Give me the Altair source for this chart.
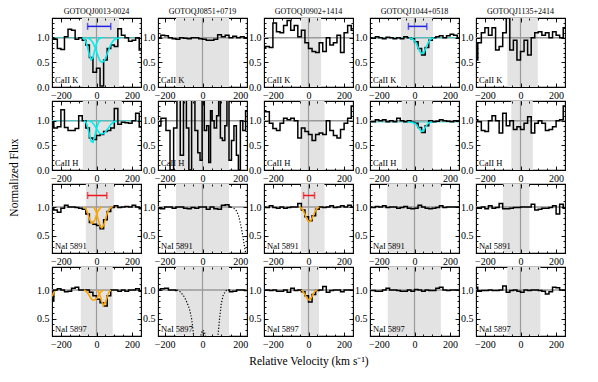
import altair as alt
import pandas as pd

# ---------------- data ----------------
QSOS = ["GOTOQJ0013-0024", "GOTOQJ0851+0719", "GOTOQJ0902+1414",
        "GOTOQJ1044+0518", "GOTOQJ1135+2414"]
LINES = ["CaII K", "CaII H", "NaI 5891", "NaI 5897"]

VEL = [-250, -230, -210, -190, -170, -150, -130, -110, -90, -70, -50, -30, -10,
       10, 30, 50, 70, 90, 110, 130, 150, 170, 190, 210, 230, 250]

# GOTOQJ0013-0024
F_0013_K = [1.0, 0.97, 0.78, 0.76, 1.02, 1.17, 1.15, 0.97, 1.0, 0.95, 0.85, 0.6, 0.3,
            0.38, 0.02, 0.55, 0.78, 0.85, 0.82, 1.18, 1.05, 1.0, 0.93, 0.95, 1.0, 0.75]
F_0013_H = [0.97, 0.85, 0.88, 1.22, 0.86, 0.8, 0.8, 0.84, 1.1, 1.0, 0.85, 0.65, 0.62,
            0.7, 0.72, 0.78, 0.8, 0.85, 1.25, 0.93, 0.97, 0.96, 0.95, 1.0, 1.15, 0.87]
F_0013_NA1 = [0.98, 0.95, 0.91, 0.98, 1.03, 1.0, 1.0, 0.99, 0.98, 0.96, 0.88, 0.73, 0.7,
              0.68, 0.62, 0.78, 0.92, 0.99, 1.02, 0.99, 1.0, 1.01, 1.0, 1.03, 1.0, 0.97]
F_0013_NA2 = [0.82, 1.0, 1.02, 1.0, 0.97, 0.98, 1.03, 1.05, 1.0, 1.0, 1.0, 0.96, 0.9,
              0.84, 0.78, 0.72, 0.9, 1.0, 1.0, 0.98, 1.0, 0.98, 1.0, 1.0, 1.02, 0.98]

# GOTOQJ0851+0719
F_0851_K = [1.0, 1.0, 1.05, 1.04, 1.0, 0.98, 0.97, 1.0, 0.99, 0.98, 1.0, 1.0, 0.98,
            0.97, 0.95, 0.95, 0.97, 1.06, 1.02, 1.05, 1.0, 1.03, 1.0, 1.02, 1.0, 1.0]
V_0851_H = [-235, -204, -182, -161, -144, -126, -109, -92, -78, -66, -49, -31, -19, -7, 3,
            16, 28, 38, 47, 55, 68, 81, 90, 99, 111, 125, 133, 147, 159, 173, 185, 194,
            206, 220, 235]
F_0851_H = [0.9, 1.05, 0.8, 0.0, 0.85, 1.5, 0.3, 1.5, 0.85, 0.0, 1.5, 0.8, 0.35, 0.2, 1.5,
            0.8, 0.9, 0.15, 1.2, 1.0, 0.85, 1.1, 1.5, 0.65, 0.6, 0.9, 1.5, 0.2, 0.6, 0.9,
            0.3, 0.0, 1.0, 0.8, 1.2]
V_0851_NA1 = [-235, -210, -190, -170, -150, -130, -110, -90, -70, -50, -30, -10, 10, 30,
              50, 70, 90, 110, 130, 150]
F_0851_NA1 = [0.98, 0.97, 1.0, 1.0, 0.98, 1.0, 1.0, 0.98, 0.97, 0.99, 0.98, 1.0, 1.0, 0.96,
              1.0, 0.97, 0.96, 1.03, 1.04, 1.0]
V_0851_NA1_DOT = [150, 165, 180, 190, 200, 210, 220, 228, 235]
F_0851_NA1_DOT = [1.0, 0.98, 0.93, 0.85, 0.72, 0.55, 0.35, 0.2, 0.1]
V_0851_NA2_L = [-235, -210, -190, -170, -150, -135]
F_0851_NA2_L = [1.0, 1.02, 1.03, 1.0, 1.0, 0.99]
V_0851_NA2_R = [135, 150, 170, 190, 210, 235]
F_0851_NA2_R = [1.0, 0.97, 0.98, 1.0, 1.0, 0.99]
V_0851_NA2_DOT = [-135, -125, -115, -100, -87, -74, -65, -57, -50, -45, -35, -20, -10, 0,
                  10, 20, 35, 55, 75, 82, 90, 99, 110, 125, 135]
F_0851_NA2_DOT = [1.0, 0.99, 0.96, 0.9, 0.82, 0.72, 0.62, 0.49, 0.3, 0.15, 0.05, 0.05, 0.2,
                  0.3, 0.28, 0.12, 0.04, 0.04, 0.08, 0.22, 0.5, 0.76, 0.92, 0.99, 1.0]

# GOTOQJ0902+1414
F_0902_K = [0.8, 0.82, 0.8, 1.3, 1.12, 1.1, 1.25, 1.35, 1.15, 1.25, 1.02, 1.15, 0.9,
            0.78, 0.72, 0.7, 0.9, 0.72, 1.0, 0.85, 0.9, 1.05, 0.7, 1.1, 1.25, 1.15]
F_0902_H = [1.2, 1.18, 0.95, 0.84, 0.8, 0.95, 1.05, 1.02, 1.05, 1.0, 0.65, 0.85, 0.78,
            0.72, 0.6, 0.72, 0.75, 0.72, 1.0, 0.8, 0.7, 0.65, 0.82, 0.95, 1.05, 1.3]
F_0902_NA1 = [1.0, 0.99, 1.02, 0.99, 0.98, 1.0, 0.98, 0.99, 1.0, 1.0, 1.06, 0.95, 0.83,
              0.76, 0.85, 0.96, 1.0, 0.99, 1.0, 1.02, 0.99, 1.0, 1.02, 1.0, 1.03, 1.0]
F_0902_NA2 = [1.0, 1.0, 0.99, 1.0, 0.98, 0.98, 1.0, 0.96, 1.03, 0.99, 1.0, 0.97, 0.9,
              0.79, 0.92, 0.99, 1.0, 1.06, 0.96, 0.99, 1.0, 1.0, 0.97, 1.0, 1.0, 1.0]

# GOTOQJ1044+0518
F_1044_K = [1.0, 0.99, 1.02, 1.0, 0.98, 1.01, 1.0, 0.98, 1.0, 0.98, 1.02, 1.0, 0.98,
            0.92, 0.78, 0.65, 0.8, 0.95, 1.0, 1.02, 1.04, 1.0, 1.04, 1.07, 1.05, 1.0]
F_1044_H = [0.98, 0.98, 1.02, 1.0, 1.02, 0.98, 1.0, 0.98, 1.05, 1.0, 0.98, 1.0, 0.97,
            0.95, 0.86, 0.76, 0.9, 1.0, 0.98, 0.99, 1.02, 1.0, 0.99, 0.98, 1.0, 1.0]
F_1044_NA1 = [1.0, 0.99, 1.01, 1.0, 1.02, 0.99, 1.0, 1.0, 0.98, 0.99, 1.01, 0.98, 0.97,
              0.98, 1.03, 1.0, 0.98, 0.97, 0.98, 0.99, 1.02, 0.99, 1.0, 1.0, 1.0, 1.0]
F_1044_NA2 = [0.99, 0.99, 0.98, 0.98, 1.0, 1.03, 1.0, 1.0, 0.99, 0.98, 0.98, 1.0, 0.98,
              1.01, 1.0, 0.98, 1.0, 0.99, 0.99, 1.03, 1.05, 1.0, 0.99, 1.0, 1.0, 1.0]

# GOTOQJ1135+2414
F_1135_K = [0.55, 0.9, 1.1, 1.2, 1.05, 1.2, 0.75, 0.82, 1.1, 1.4, 0.75, 0.95, 0.55,
            0.72, 0.95, 0.65, 1.0, 1.1, 1.12, 1.05, 1.1, 1.0, 1.12, 1.05, 1.0, 1.2]
F_1135_H = [1.02, 0.98, 0.8, 0.78, 1.0, 1.1, 1.0, 0.75, 1.15, 0.9, 1.0, 0.82, 0.88,
            0.82, 0.95, 1.08, 0.75, 0.95, 1.0, 0.95, 0.8, 0.82, 0.88, 1.0, 1.02, 1.3]
F_1135_NA1 = [0.98, 0.98, 1.0, 0.97, 1.02, 0.98, 0.99, 1.06, 0.97, 0.97, 0.98, 0.99, 0.99,
              1.0, 1.0, 1.0, 1.05, 0.95, 0.96, 0.98, 0.98, 0.99, 1.02, 0.88, 1.05, 0.98]
F_1135_NA2 = [1.05, 0.98, 0.99, 0.99, 1.0, 0.99, 0.99, 1.0, 1.07, 0.96, 0.99, 1.0, 0.98,
              0.96, 1.0, 0.99, 1.0, 1.0, 0.99, 0.98, 0.93, 0.97, 1.05, 1.04, 1.0, 1.0]

# fitted components
C_0013_K_A_V = [-80, -70, -60, -50, -40, -30, -20, -10, 0, 10, 20, 30]
C_0013_K_A_F = [1.0, 0.98, 0.92, 0.8, 0.65, 0.55, 0.6, 0.74, 0.88, 0.96, 0.99, 1.0]
C_0013_K_B_V = [-50, -40, -30, -20, -10, 0, 10, 20, 30, 40, 50, 60, 70, 80, 90, 100, 110, 120, 130]
C_0013_K_B_F = [1.0, 0.98, 0.95, 0.9, 0.82, 0.72, 0.61, 0.53, 0.5, 0.52, 0.58, 0.67, 0.77,
                0.86, 0.92, 0.96, 0.98, 0.99, 1.0]
C_0013_H_A_V = [-70, -60, -50, -40, -30, -20, -10, 0, 10, 20]
C_0013_H_A_F = [1.0, 0.97, 0.88, 0.72, 0.58, 0.56, 0.68, 0.84, 0.95, 1.0]
C_0013_H_B_V = [-40, -30, -20, -10, 0, 10, 20, 30, 40, 50, 60, 70, 80, 90, 100, 110]
C_0013_H_B_F = [1.0, 0.98, 0.95, 0.9, 0.84, 0.78, 0.74, 0.73, 0.74, 0.77, 0.82, 0.87, 0.92,
                0.96, 0.98, 1.0]
C_0013_NA1_A_V = [-70, -60, -50, -40, -30, -20, -10, 0, 10, 20, 30]
C_0013_NA1_A_F = [1.0, 0.97, 0.9, 0.8, 0.73, 0.72, 0.77, 0.86, 0.94, 0.98, 1.0]
C_0013_NA1_B_V = [-20, -10, 0, 10, 20, 30, 40, 50, 60, 70, 80, 90]
C_0013_NA1_B_F = [1.0, 0.97, 0.9, 0.78, 0.67, 0.64, 0.68, 0.78, 0.89, 0.96, 0.99, 1.0]
C_0013_NA2_A_V = [-70, -60, -50, -40, -30, -20, -10, 0, 10, 20, 30, 40]
C_0013_NA2_A_F = [1.0, 0.98, 0.95, 0.9, 0.85, 0.825, 0.825, 0.85, 0.9, 0.95, 0.98, 1.0]
C_0013_NA2_B_V = [0, 10, 20, 30, 40, 50, 60, 70, 80]
C_0013_NA2_B_F = [1.0, 0.97, 0.9, 0.8, 0.73, 0.78, 0.88, 0.96, 1.0]
C_0013_NA2_C_V = [-250, -245, -240, -235, -230]
C_0013_NA2_C_F = [0.88, 0.92, 0.96, 0.98, 1.0]
C_0902_NA1_V = [-50, -40, -30, -20, -10, 0, 10, 20, 30, 40, 50, 60]
C_0902_NA1_F = [1.0, 0.98, 0.94, 0.87, 0.8, 0.75, 0.75, 0.8, 0.87, 0.94, 0.98, 1.0]
C_0902_NA2_V = [-40, -30, -20, -10, 0, 10, 20, 30, 40, 50]
C_0902_NA2_F = [1.0, 0.97, 0.92, 0.86, 0.83, 0.84, 0.89, 0.95, 0.99, 1.0]
C_1044_K_V = [-30, -20, -10, 0, 10, 20, 30, 40, 50, 60, 70, 80, 90, 100, 110]
C_1044_K_F = [1.0, 0.99, 0.97, 0.94, 0.88, 0.8, 0.72, 0.68, 0.69, 0.75, 0.84, 0.92, 0.97, 0.99, 1.0]
C_1044_H_V = [-40, -20, -10, 0, 10, 20, 30, 40, 50, 60, 70, 80, 90, 100]
C_1044_H_F = [0.975, 0.97, 0.96, 0.95, 0.92, 0.87, 0.82, 0.78, 0.8, 0.86, 0.92, 0.96, 0.97, 0.975]

# velocity windows (grey bands), rows = lines, cols = quasars
BAND_LO = [[-82, -140, -41, -76, -74],
           [-77, -140, -47, -72, -52],
           [-60, -140, -43, -154, -99],
           [-88, -140, -43, -150, -74]]
BAND_HI = [[127, 140, 71, 104, 97],
           [142, 140, 90, 102, 69],
           [99, 140, 90, 148, 50],
           [91, 140, 59, 148, 112]]

# velocity range bars
BAR_ROW = [0, 0, 2, 2]
BAR_COL = [0, 3, 0, 2]
BAR_LO = [-50, -34, -50, -28]
BAR_HI = [80, 69, 58, 34]
BAR_Y = [1.23, 1.23, 1.2, 1.2]
BAR_COLOR = ["#1f1fe8", "#1f1fe8", "#f0141e", "#f0141e"]

# continuum of the fits
CONT_ROW = [0, 1, 0, 1]
CONT_COL = [0, 0, 3, 3]
CONT_Y = [1.0, 1.0, 1.0, 0.975]

X_MAJOR = [-200, 0, 200]
X_MINOR = [-250, -200, -150, -100, -50, 0, 50, 100, 150, 200, 250]
Y_MAJOR_CA = [0.0, 0.5, 1.0]
Y_MAJOR_NA = [0.5, 1.0]
Y_MINOR_CA = [0.0, 0.1, 0.2, 0.3, 0.4, 0.5, 0.6, 0.7, 0.8, 0.9, 1.0, 1.1, 1.2, 1.3, 1.4]
Y_MINOR_NA = [0.2, 0.3, 0.4, 0.5, 0.6, 0.7, 0.8, 0.9, 1.0, 1.1, 1.2, 1.3, 1.4]

# --------------- assemble per panel ----------------
SPEC = {
    (0, 0): [(VEL, F_0013_K)], (1, 0): [(VEL, F_0013_H)],
    (2, 0): [(VEL, F_0013_NA1)], (3, 0): [(VEL, F_0013_NA2)],
    (0, 1): [(VEL, F_0851_K)], (1, 1): [(V_0851_H, F_0851_H)],
    (2, 1): [(V_0851_NA1, F_0851_NA1)],
    (3, 1): [(V_0851_NA2_L, F_0851_NA2_L), (V_0851_NA2_R, F_0851_NA2_R)],
    (0, 2): [(VEL, F_0902_K)], (1, 2): [(VEL, F_0902_H)],
    (2, 2): [(VEL, F_0902_NA1)], (3, 2): [(VEL, F_0902_NA2)],
    (0, 3): [(VEL, F_1044_K)], (1, 3): [(VEL, F_1044_H)],
    (2, 3): [(VEL, F_1044_NA1)], (3, 3): [(VEL, F_1044_NA2)],
    (0, 4): [(VEL, F_1135_K)], (1, 4): [(VEL, F_1135_H)],
    (2, 4): [(VEL, F_1135_NA1)], (3, 4): [(VEL, F_1135_NA2)],
}
DOTTED = {
    (2, 1): [(V_0851_NA1_DOT, F_0851_NA1_DOT)],
    (3, 1): [(V_0851_NA2_DOT, F_0851_NA2_DOT)],
}
CYAN = "#00eeee"
ORANGE = "#ffa500"
COMPS = {
    (0, 0): ([(C_0013_K_A_V, C_0013_K_A_F), (C_0013_K_B_V, C_0013_K_B_F)], CYAN),
    (1, 0): ([(C_0013_H_A_V, C_0013_H_A_F), (C_0013_H_B_V, C_0013_H_B_F)], CYAN),
    (2, 0): ([(C_0013_NA1_A_V, C_0013_NA1_A_F), (C_0013_NA1_B_V, C_0013_NA1_B_F)], ORANGE),
    (3, 0): ([(C_0013_NA2_A_V, C_0013_NA2_A_F), (C_0013_NA2_B_V, C_0013_NA2_B_F),
              (C_0013_NA2_C_V, C_0013_NA2_C_F)], ORANGE),
    (2, 2): ([(C_0902_NA1_V, C_0902_NA1_F)], ORANGE),
    (3, 2): ([(C_0902_NA2_V, C_0902_NA2_F)], ORANGE),
    (0, 3): ([(C_1044_K_V, C_1044_K_F)], CYAN),
    (1, 3): ([(C_1044_H_V, C_1044_H_F)], CYAN),
}

W, H = 89, 69
FONT = "Liberation Serif"
GRAY = "#9a9a9a"
BAND = "#e3e3e3"


def segs_df(pairs):
    rows = []
    for k, (vs, fs) in enumerate(pairs):
        for v, f in zip(vs, fs):
            rows.append({"v": v, "f": f, "s": k})
    return pd.DataFrame(rows)


def panel(r, c):
    half = 235 if c == 1 else 250
    xs = alt.Scale(domain=[-half, half], nice=False, zero=False)
    ydom = [0.0, 1.4] if r < 2 else [0.2, 1.4]
    ys = alt.Scale(domain=ydom, nice=False, zero=False)
    xmaj = [v for v in X_MAJOR if -half <= v <= half]
    xmin = [v for v in X_MINOR if -half <= v <= half]
    ymaj = Y_MAJOR_CA if r < 2 else Y_MAJOR_NA
    ymin = Y_MINOR_CA if r < 2 else Y_MINOR_NA

    layers = []
    layers.append(alt.Chart(pd.DataFrame({"a": [BAND_LO[r][c]], "b": [BAND_HI[r][c]]}))
                  .mark_rect(color=BAND)
                  .encode(x=alt.X("a:Q", scale=xs, axis=None), x2="b:Q"))
    layers.append(alt.Chart(pd.DataFrame({"v": [0]})).mark_rule(color=GRAY, strokeWidth=1.2)
                  .encode(x=alt.X("v:Q", scale=xs, axis=None)))
    layers.append(alt.Chart(pd.DataFrame({"f": [1.0]})).mark_rule(color=GRAY, strokeWidth=1.6)
                  .encode(y=alt.Y("f:Q", scale=ys, axis=None)))
    for i in range(len(CONT_Y)):
        if CONT_ROW[i] == r and CONT_COL[i] == c:
            layers.append(alt.Chart(pd.DataFrame({"f": [CONT_Y[i]]}))
                          .mark_rule(color="#40c8c8", strokeWidth=1.2, opacity=0.8)
                          .encode(y=alt.Y("f:Q", scale=ys, axis=None)))

    xkw = dict(orient="bottom", values=xmaj, ticks=False, domain=False, grid=False,
               labelPadding=3, labelFontSize=10, labelFont=FONT, labelColor="black",
               labelFlush=False, title=None)
    ykw = dict(orient="left", values=ymaj, ticks=False, domain=False, grid=False, format=".1f",
               labelPadding=3, labelFontSize=10, labelFont=FONT, labelColor="black",
               labelFlush=False, title=None)
    if r == 1 and c == 0:
        ykw.update(title="Normalized Flux", titleX=-33, titleY=76, titleFont=FONT,
                   titleFontSize=11.5, titleFontWeight="normal", titleColor="black")
    if r == 3 and c == 2:
        xkw.update(title="Relative Velocity (km s\u207b\u00b9)", titleY=19, titleFont=FONT,
                   titleFontSize=11.5, titleFontWeight="normal", titleColor="black")

    layers.append(alt.Chart(segs_df(SPEC[(r, c)]))
                  .mark_line(interpolate="step", color="black", strokeWidth=1.5, clip=True)
                  .encode(x=alt.X("v:Q", scale=xs, axis=alt.Axis(**xkw)),
                          y=alt.Y("f:Q", scale=ys, axis=alt.Axis(**ykw)),
                          detail="s:N"))
    if (r, c) in DOTTED:
        layers.append(alt.Chart(segs_df(DOTTED[(r, c)]))
                      .mark_line(color="black", strokeWidth=1.2, strokeDash=[1.2, 1.8], clip=True)
                      .encode(x=alt.X("v:Q", scale=xs, axis=None),
                              y=alt.Y("f:Q", scale=ys, axis=None), detail="s:N"))
    if (r, c) in COMPS:
        pairs, col = COMPS[(r, c)]
        layers.append(alt.Chart(segs_df(pairs))
                      .mark_line(color=col, strokeWidth=1.6, clip=True)
                      .encode(x=alt.X("v:Q", scale=xs, axis=None),
                              y=alt.Y("f:Q", scale=ys, axis=None), detail="s:N"))
    for i in range(len(BAR_Y)):
        if BAR_ROW[i] == r and BAR_COL[i] == c:
            layers.append(alt.Chart(pd.DataFrame({"a": [BAR_LO[i]], "b": [BAR_HI[i]], "y": [BAR_Y[i]]}))
                          .mark_rule(color=BAR_COLOR[i], strokeWidth=1.5)
                          .encode(x=alt.X("a:Q", scale=xs, axis=None), x2="b:Q",
                                  y=alt.Y("y:Q", scale=ys, axis=None)))
            layers.append(alt.Chart(pd.DataFrame({"v": [BAR_LO[i], BAR_HI[i]], "y": [BAR_Y[i]] * 2}))
                          .mark_tick(orient="vertical", size=7, thickness=1.5, color=BAR_COLOR[i])
                          .encode(x=alt.X("v:Q", scale=xs, axis=None),
                                  y=alt.Y("y:Q", scale=ys, axis=None)))
    layers.append(alt.Chart(pd.DataFrame({"t": [LINES[r]]}))
                  .mark_text(align="left", baseline="bottom", font=FONT, fontSize=8.5, color="black")
                  .encode(text="t:N", x=alt.value(3), y=alt.value(H - 2)))

    # inward ticks on all four sides
    carrier = pd.DataFrame({"v": [0], "f": [1.0]})
    for xo, yo in (("top", "right"), ("bottom", "left")):
        for vals_x, vals_y, size in ((xmaj, ymaj, 4), (xmin, ymin, 2)):
            layers.append(alt.Chart(carrier).mark_point(opacity=0, size=1)
                          .encode(x=alt.X("v:Q", scale=xs, axis=alt.Axis(
                                      orient=xo, offset=-H, values=vals_x, tickSize=size,
                                      labels=False, domain=False, grid=False, title=None,
                                      tickColor="black", tickWidth=0.9, zindex=2)),
                                  y=alt.Y("f:Q", scale=ys, axis=alt.Axis(
                                      orient=yo, offset=-W, values=vals_y, tickSize=size,
                                      labels=False, domain=False, grid=False, title=None,
                                      tickColor="black", tickWidth=0.9, zindex=2))))

    ch = alt.layer(*layers).resolve_axis(x="independent", y="independent")
    if r == 0:
        ch = ch.properties(width=W, height=H,
                           title=alt.TitleParams(QSOS[c], font=FONT, fontSize=8, fontWeight="normal",
                                                 color="black", offset=1, anchor="middle"))
    else:
        ch = ch.properties(width=W, height=H)
    return ch


panels = [panel(r, c) for r in range(4) for c in range(5)]

chart = (alt.concat(*panels, columns=5, spacing={"row": 14, "column": 17}, bounds="flush")
         .properties(padding={"left": -1, "top": -1, "right": 0, "bottom": 0}, background="white")
         .configure_view(stroke="black", strokeWidth=1.1))

chart.save("out.html", embed_options={"renderer": "svg", "actions": False})
